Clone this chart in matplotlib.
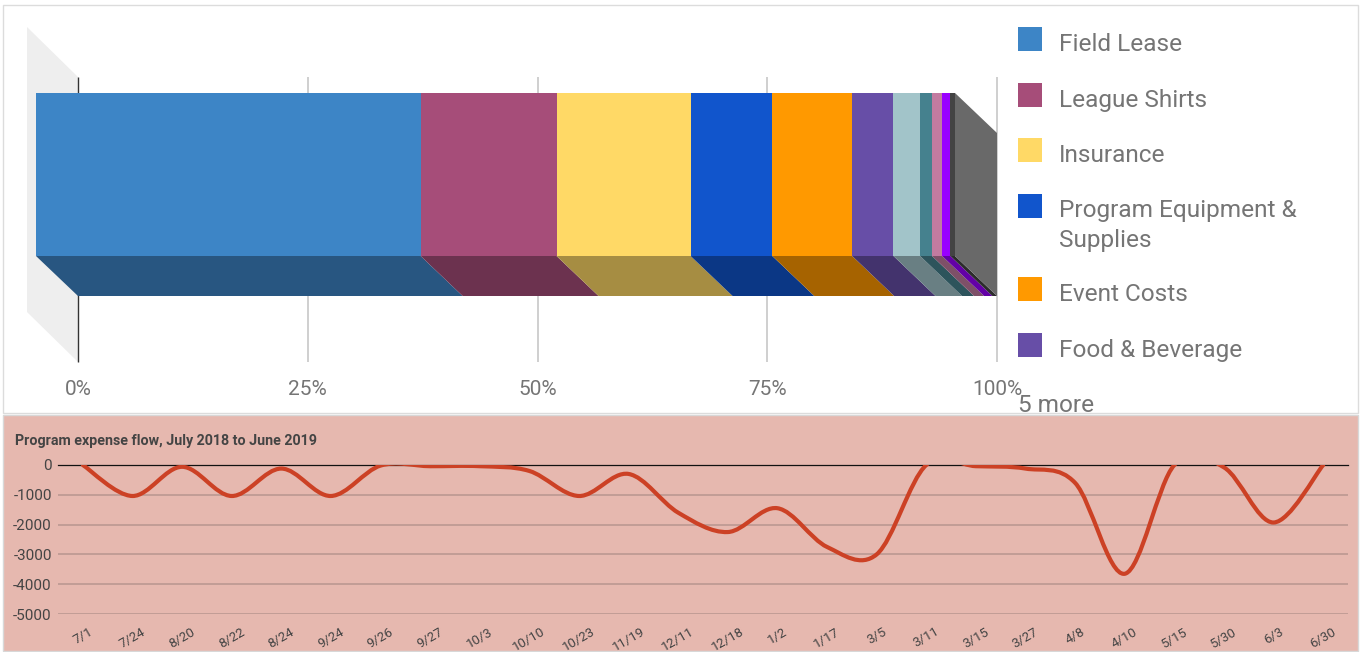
import matplotlib.pyplot as plt
from matplotlib.patches import Rectangle, Polygon, PathPatch
from matplotlib.path import Path
from matplotlib.colors import to_rgb

plt.rcParams['font.family'] = ['Roboto', 'DejaVu Sans']

# --- data: share of program expenses (percent of total) ---
CATEGORIES = ['Field Lease', 'League Shirts', 'Insurance',
              'Program Equipment &\nSupplies', 'Event Costs', 'Food & Beverage']
SHARES = [41.9, 14.8, 14.6, 8.9, 8.7, 4.5, 2.9, 1.3, 1.1, 0.9, 0.5]
COLORS = ['#3d85c6', '#a64d79', '#ffd966', '#1155cc', '#ff9900', '#674ea7',
          '#a2c4c9', '#45818e', '#c27ba0', '#9900ff', '#434343']
PCT_TICKS = [0, 25, 50, 75, 100]

# --- data: expense flow ---
FLOW_DATES = ['7/1', '7/24', '8/20', '8/22', '8/24', '9/24', '9/26', '9/27', '10/3',
              '10/10', '10/23', '11/19', '12/11', '12/18', '1/2', '1/17', '3/5',
              '3/11', '3/15', '3/27', '4/8', '4/10', '5/15', '5/30', '6/3', '6/30']
FLOW = [0, -1040, -60, -1040, -120, -1040, -20, -40, -40, -200, -1040, -300, -1600,
        -2250, -1450, -2750, -3000, 0, -40, -120, -600, -3650, 0, -80, -1930, 0]
FLOW_TICKS = [0, -1000, -2000, -3000, -4000, -5000]

W, H = 1361, 652


def fx(px):
    return px / W


def fy(py):
    return 1 - py / H


def darker(c, f=0.65):
    r, g, b = to_rgb(c)
    return (r * f, g * f, b * f)


fig = plt.figure(figsize=(W / 100, H / 100), dpi=100, facecolor='white')

# panel backgrounds
fig.add_artist(Rectangle((fx(3), fy(413)), 1355 / W, 408 / H, transform=fig.transFigure,
                         facecolor='white', edgecolor='#dcdcdc', lw=1, zorder=-10))
fig.add_artist(Rectangle((fx(3), fy(651)), 1355 / W, 236 / H, transform=fig.transFigure,
                         facecolor='#e6b8af', edgecolor='#d8d8d8', lw=1, zorder=-10))

# --- 3D stacked bar ---
ax = fig.add_axes([0, 0, 1, 1])
ax.set_axis_off()
ax.patch.set_visible(False)
X0, SX = 36, 9.19      # front face: 0% at px 36, px per percent
Y0, SY = 256, 163      # front face bottom at px 256, bar height 163 px
ax.set_xlim(-X0 / SX, (W - X0) / SX)
ax.set_ylim((Y0 - H) / SY, Y0 / SY)
DX, DY = 42 / SX, -40 / SY

# back wall
wall_top, wall_bot = (Y0 - 77) / SY, (Y0 - 362) / SY
wall_front = -9 / SX
ax.add_patch(Polygon([(wall_front, wall_top + 50 / SY), (DX, wall_top), (DX, wall_bot),
                      (wall_front, wall_bot + 50 / SY)], closed=True,
                     facecolor='#eeeeee', edgecolor='none', zorder=1))

for t in PCT_TICKS:
    ax.plot([t + DX, t + DX], [wall_bot, wall_top], color='#333333' if t == 0 else '#cccccc',
            lw=1 if t == 0 else 1.3, zorder=2, solid_capstyle='butt')
    ax.text(t + DX, (Y0 - 390) / SY, f'{t}%', ha='center', va='center',
            fontsize=15, color='#757575', zorder=5)

total = sum(SHARES)
left = 0
for share, color in zip(SHARES, COLORS):
    w = share / total * 100
    ax.add_patch(Polygon([(left, 0), (left + w, 0), (left + w + DX, DY), (left + DX, DY)],
                         closed=True, facecolor=darker(color), edgecolor='none', zorder=3))
    ax.add_patch(Rectangle((left, 0), w, 1, facecolor=color, edgecolor='none', zorder=4))
    left += w
ax.add_patch(Polygon([(100, 0), (100, 1), (100 + DX, 1 + DY), (100 + DX, DY)], closed=True,
                     facecolor='#696969', edgecolor='none', zorder=3))

# legend
top = 27
for label, color in zip(CATEGORIES, COLORS):
    ax.add_patch(Rectangle((fx(1018), fy(top + 24)), 24 / W, 24 / H, transform=ax.transAxes,
                           facecolor=color, edgecolor='none', clip_on=False))
    lines = label.split('\n')
    for k, line in enumerate(lines):
        ax.text(fx(1059), fy(top + 24 + 29 * k), line, transform=ax.transAxes,
                fontsize=17.6, color='#757575', va='baseline', ha='left')
    top += 55.5 + 28 * (len(lines) - 1)
ax.text(fx(1018), fy(top + 24), f'{len(SHARES) - len(CATEGORIES)} more',
        transform=ax.transAxes, fontsize=17.6, color='#757575', va='baseline', ha='left')

# --- expense flow line ---
ax2 = fig.add_axes([fx(58), fy(614), 1290 / W, 149 / H])
ax2.patch.set_visible(False)
ax2.set_xlim(-0.5, len(FLOW) - 0.5)
ax2.set_ylim(-5000, 0)
for s in ax2.spines.values():
    s.set_visible(False)
for t in FLOW_TICKS[1:]:
    ax2.axhline(t, color='#bb9892', lw=1.2, zorder=1)
ax2.axhline(0, color='#111111', lw=0.9, zorder=1, clip_on=False)

# smooth curve through the points (cubic Bezier segments)
pts = list(enumerate(FLOW))
K = 1 / 6
verts, codes = [pts[0]], [Path.MOVETO]
n = len(pts)
for i in range(n - 1):
    p0 = pts[max(i - 1, 0)]
    p1, p2 = pts[i], pts[i + 1]
    p3 = pts[min(i + 2, n - 1)]
    c1 = (p1[0] + (p2[0] - p0[0]) * K, p1[1] + (p2[1] - p0[1]) * K)
    c2 = (p2[0] - (p3[0] - p1[0]) * K, p2[1] - (p3[1] - p1[1]) * K)
    verts += [c1, c2, p2]
    codes += [Path.CURVE4] * 3
ax2.add_patch(PathPatch(Path(verts, codes), fill=False, edgecolor='#cc4125', lw=3,
                        capstyle='round', joinstyle='round', zorder=3))

ax2.set_yticks(FLOW_TICKS)
ax2.set_yticklabels([str(t) for t in FLOW_TICKS], fontsize=11, color='#444444')
ax2.set_xticks(range(len(FLOW_DATES)))
ax2.set_xticklabels(FLOW_DATES, rotation=30, ha='center', fontsize=9.5, color='#444444')
ax2.tick_params(axis='y', length=0, pad=4.5)
ax2.tick_params(axis='x', length=0, pad=8)

fig.text(fx(15), fy(445), 'Program expense flow, July 2018 to June 2019', fontsize=10.3,
         fontweight='bold', color='#444444', va='baseline', ha='left')

fig.savefig('out.png', dpi=100)
